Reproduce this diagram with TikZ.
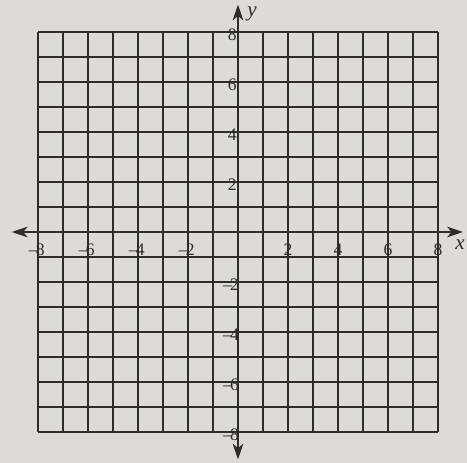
\documentclass[tikz,border=0pt]{standalone}
\usepackage{fontspec}
\setmainfont{Liberation Serif}
\usepackage{xcolor}
\usetikzlibrary{arrows.meta}

\definecolor{paper}{HTML}{DEDAD5}
\definecolor{ink}{HTML}{2E2C2A}

\begin{document}
\begin{tikzpicture}[
  x=0.5cm, y=0.5cm,
  >={Stealth[length=9pt,width=6pt,inset=2.5pt]},
  gridline/.style={draw=ink, line width=1pt},
  axisline/.style={draw=ink, line width=1.25pt, <->},
  ticklbl/.style={font=\normalsize, text=ink, inner sep=0pt},
  axislbl/.style={font=\large\itshape, text=ink}
]

% ---- paper and bounding box ----
\fill[paper] (-9.52,-9.24) rectangle (9.16,9.28);
\useasboundingbox (-9.52,-9.24) rectangle (9.16,9.28);

% ---- grid, -8 .. 8 ----
\foreach \k in {-8,...,8} {
  \draw[gridline] (\k,-8) -- (\k,8);
  \draw[gridline] (-8,\k) -- (8,\k);
}

% ---- axes ----
\coordinate (xl) at (-9.05,0);
\coordinate (xr) at (9.0,0);
\coordinate (yb) at (0,-9.1);
\coordinate (yt) at (0,9.1);
\draw[axisline] (xl) -- (xr);
\draw[axisline] (yb) -- (yt);
\node[axislbl] (xlbl) at (8.88,-0.52) {x};
\node[axislbl] (ylbl) at (0.56,8.72) {y};

% ---- tick labels ----
\foreach \v in {-8,-6,-4,-2} {
  \node[ticklbl] (xt\v) at (\v-0.05,-0.7) {–\kern-1pt\the\numexpr-\v\relax};
  \node[ticklbl, anchor=east] (yt\v) at (0.05,\v-0.12) {–\kern-1pt\the\numexpr-\v\relax};
}
\foreach \v in {2,4,6,8} {
  \node[ticklbl] (xt\v) at (\v,-0.7) {\v};
  \node[ticklbl, anchor=east] (yt\v) at (-0.04,\v-0.12) {\v};
}

\end{tikzpicture}
\end{document}
